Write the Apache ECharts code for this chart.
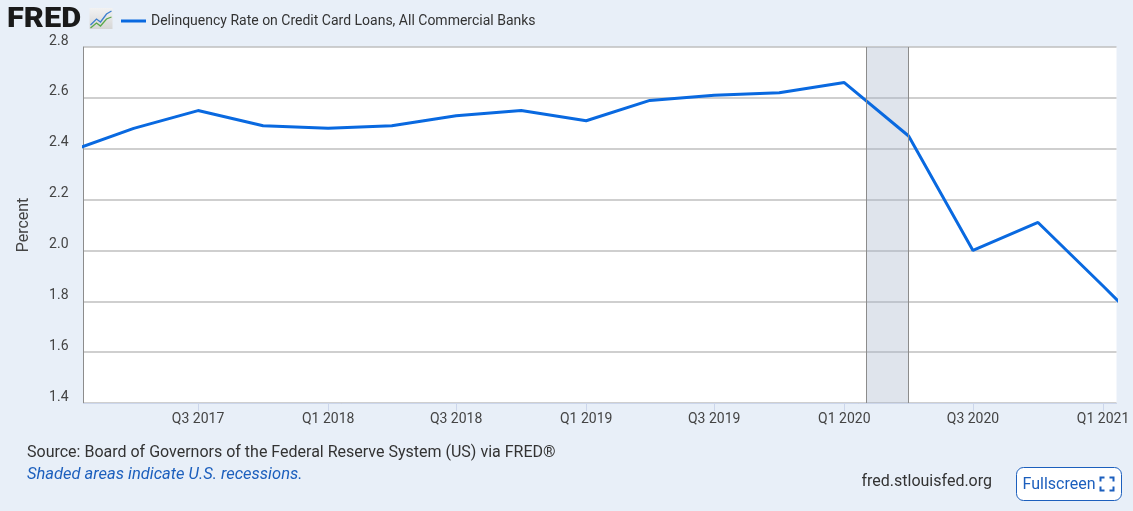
<!DOCTYPE html>
<html>
<head>
<meta charset="utf-8">
<script src="https://cdn.jsdelivr.net/npm/echarts@6/dist/echarts.min.js"></script>
<style>
html,body{margin:0;padding:0;background:#e8eff8;}
#chart{width:1133px;height:511px;}
</style>
</head>
<body>
<div id="chart"></div>
<script>
// Quarterly observation dates and values (percent)
const quarterDates = ['2017-01-01','2017-04-01','2017-07-01','2017-10-01','2018-01-01','2018-04-01','2018-07-01','2018-10-01','2019-01-01','2019-04-01','2019-07-01','2019-10-01','2020-01-01','2020-04-01','2020-07-01','2020-10-01','2021-01-01','2021-04-01'];
const delinquencyRate = [2.39, 2.48, 2.55, 2.49, 2.48, 2.49, 2.53, 2.55, 2.51, 2.59, 2.61, 2.62, 2.66, 2.45, 2.00, 2.11, 1.86, 1.61];
const xTickDates = ['2017-07-01','2018-01-01','2018-07-01','2019-01-01','2019-07-01','2020-01-01','2020-07-01','2021-01-01'];
const xRange = ['2017-01-20','2021-01-20'];
const recession = ['2020-02-01','2020-04-01'];
const yMin = 1.4, yMax = 2.8, yStep = 0.2;
const seriesName = 'Delinquency Rate on Credit Card Loans, All Commercial Banks';

function ts(s){ const p = s.split('-').map(Number); return new Date(p[0], p[1]-1, p[2]).getTime(); }
function qLabel(v){ const d = new Date(v); return 'Q' + (Math.floor(d.getMonth()/3)+1) + ' ' + d.getFullYear(); }

const chart = echarts.init(document.getElementById('chart'));
const FONT = 'Roboto, "Noto Sans", sans-serif';
chart.setOption({
  backgroundColor: '#e8eff8',
  animation: false,
  textStyle: { fontFamily: FONT },
  legend: {
    left: 116, top: 9,
    icon: 'rect', itemWidth: 25, itemHeight: 3, itemGap: 10,
    textStyle: { fontSize: 14, color: '#333', fontFamily: FONT },
    selectedMode: false
  },
  grid: { left: 83.5, right: 16.5, top: 47, bottom: 108, show: true, backgroundColor: '#ffffff', borderWidth: 0, containLabel: false },
  xAxis: {
    type: 'value',
    min: ts(xRange[0]), max: ts(xRange[1]),
    axisLine: { show: true, lineStyle: { color: '#ccd6eb', width: 1 } },
    axisTick: { show: true, length: 8, lineStyle: { color: '#ccd6eb' }, customValues: xTickDates.map(ts) },
    axisLabel: { customValues: xTickDates.map(ts), formatter: qLabel, fontSize: 14, color: '#444', margin: 9, fontFamily: FONT, showMinLabel: true, showMaxLabel: true },
    splitLine: { show: false }
  },
  yAxis: {
    type: 'value', min: yMin, max: yMax, interval: yStep,
    name: 'Percent', nameLocation: 'middle', nameGap: 52, nameRotate: 90,
    nameTextStyle: { fontSize: 16, color: '#444', fontFamily: FONT },
    axisLine: { show: true, lineStyle: { color: '#8c8c8c', width: 1 } },
    axisTick: { show: false },
    axisLabel: { formatter: v => v.toFixed(1), fontSize: 14, color: '#444', margin: 15, verticalAlign: 'bottom', lineHeight: 12, fontFamily: FONT },
    splitLine: { show: true, lineStyle: { color: '#bfbfbf', width: 1.5 } }
  },
  series: [{
    name: seriesName,
    type: 'line',
    data: quarterDates.map((d, i) => [ts(d), delinquencyRate[i]]),
    showSymbol: false, symbol: 'none',
    lineStyle: { color: '#0969e0', width: 3 },
    itemStyle: { color: '#0969e0' },
    emphasis: { disabled: true },
    markArea: {
      silent: true,
      itemStyle: { color: 'rgba(164,178,201,0.35)', borderWidth: 0 },
      data: [[{ xAxis: ts(recession[0]) }, { xAxis: ts(recession[1]) }]]
    },
    markLine: {
      silent: true, symbol: 'none', label: { show: false },
      lineStyle: { color: '#8c8c8c', width: 1, type: 'solid' },
      data: recession.map(d => ({ xAxis: ts(d) }))
    }
  }],
  graphic: [
    { type: 'text', x: 7, y: 20, scaleX: 1.14, style: { text: 'FRED', fontSize: 27, fontWeight: 900, fill: '#1a1a1a', verticalAlign: 'middle', fontFamily: 'Roboto, "DejaVu Sans", sans-serif' } },
    { type: 'group', left: 88, top: 8, children: [
      { type: 'rect', shape: { x: 0, y: 0, width: 23, height: 21 }, style: { fill: new echarts.graphic.LinearGradient(0,0,0,1,[{offset:0,color:'#f2f2f2'},{offset:1,color:'#d6d6d6'}]) } },
      { type: 'polyline', shape: { points: [[1,17],[7,11],[11,14],[17,6],[22,3]] }, style: { stroke: '#3c7fcf', lineWidth: 1.3, fill: null } },
      { type: 'polyline', shape: { points: [[1,20],[7,15],[11,18],[17,11],[22,9]] }, style: { stroke: '#5aa84a', lineWidth: 1.3, fill: null } }
    ]},
    { type: 'text', x: 27, y: 453, style: { text: 'Source: Board of Governors of the Federal Reserve System (US) via FRED®', fontSize: 16, fill: '#333', verticalAlign: 'middle', fontFamily: FONT } },
    { type: 'text', x: 27, y: 475, style: { text: 'Shaded areas indicate U.S. recessions.', fontSize: 16.5, fontStyle: 'italic', fill: '#1c5fbd', verticalAlign: 'middle', fontFamily: FONT } },
    { type: 'text', x: 992, y: 482, style: { text: 'fred.stlouisfed.org', fontSize: 16, fill: '#333', align: 'right', verticalAlign: 'middle', fontFamily: FONT } },
    { type: 'group', left: 1016, top: 467, children: [
      { type: 'rect', shape: { x: 0, y: 0, width: 105, height: 33, r: 7 }, style: { fill: '#ffffff', stroke: '#1c5fbd', lineWidth: 1 } },
      { type: 'text', x: 6, y: 17, style: { text: 'Fullscreen', fontSize: 16, fill: '#1c5fbd', verticalAlign: 'middle', fontFamily: FONT } },
      { type: 'polyline', shape: { points: [[84,14],[84,10],[88,10]] }, style: { stroke: '#1c5fbd', lineWidth: 2, fill: null } },
      { type: 'polyline', shape: { points: [[93,10],[97,10],[97,14]] }, style: { stroke: '#1c5fbd', lineWidth: 2, fill: null } },
      { type: 'polyline', shape: { points: [[84,19],[84,23],[88,23]] }, style: { stroke: '#1c5fbd', lineWidth: 2, fill: null } },
      { type: 'polyline', shape: { points: [[93,23],[97,23],[97,19]] }, style: { stroke: '#1c5fbd', lineWidth: 2, fill: null } }
    ]}
  ]
});
</script>
</body>
</html>
